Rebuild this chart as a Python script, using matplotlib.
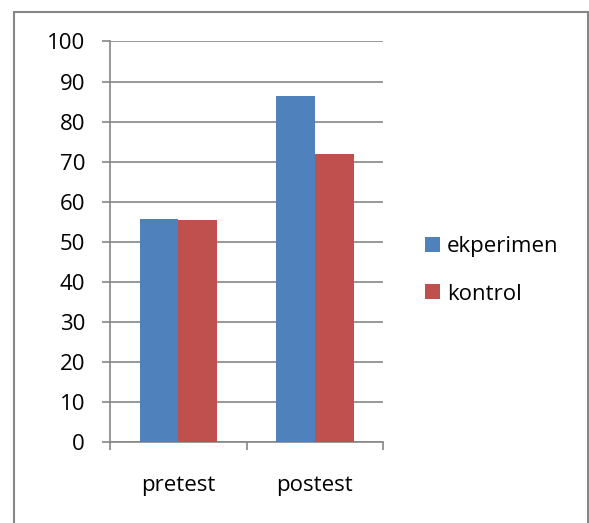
import matplotlib.pyplot as plt
import numpy as np
from matplotlib.patches import Rectangle

categories = ["pretest", "postest"]
ekperimen = [55.6, 86.4]
kontrol = [55.4, 71.9]
series_names = ["ekperimen", "kontrol"]
yticks = [0, 10, 20, 30, 40, 50, 60, 70, 80, 90, 100]

plt.rcParams['font.family'] = ['Open Sans', 'DejaVu Sans']

fig = plt.figure(figsize=(5.89, 5.23), dpi=100)
ax = fig.add_axes([0.1868, 0.1549, 0.4635, 0.7658])

grey = "#868686"
x = np.arange(len(categories))
w = 0.284
ax.bar(x - w/2, ekperimen, w, color="#4F81BD", label=series_names[0], zorder=3)
ax.bar(x + w/2, kontrol, w, color="#C0504D", label=series_names[1], zorder=3)

ax.set_xlim(-0.5, len(categories) - 0.5)
ax.set_ylim(0, 100)
ax.set_yticks(yticks)
ax.yaxis.grid(True, color=grey, linewidth=1.2, zorder=0)
ax.set_axisbelow(True)

# ticks between categories, labels at centres
ax.set_xticks(np.arange(len(categories) + 1) - 0.5)
ax.set_xticklabels([])
ax.set_xticks(x, minor=True)
ax.set_xticklabels(categories, minor=True)
ax.tick_params(axis='x', which='minor', length=0, pad=24, labelsize=16)
ax.tick_params(axis='x', which='major', length=6, width=1.2, color=grey)
ax.tick_params(axis='y', length=6, width=1.2, color=grey, labelsize=16, pad=12)

for s in ['top', 'right']:
    ax.spines[s].set_visible(False)
for s in ['left', 'bottom']:
    ax.spines[s].set_color(grey)
    ax.spines[s].set_linewidth(1.2)

leg = fig.legend(loc='center left', bbox_to_anchor=(0.7216, 0.483), frameon=False,
                 fontsize=16, handlelength=0.68, handleheight=0.68, borderpad=0,
                 borderaxespad=0, handletextpad=0.3, labelspacing=1.18)

# outer chart frame
fig.patches.append(Rectangle((14/589, -0.05), (588-14)/589, 1 - 12/523 + 0.05,
                             transform=fig.transFigure, fill=False,
                             edgecolor=grey, linewidth=1.5))

fig.savefig("out.png", dpi=100)
